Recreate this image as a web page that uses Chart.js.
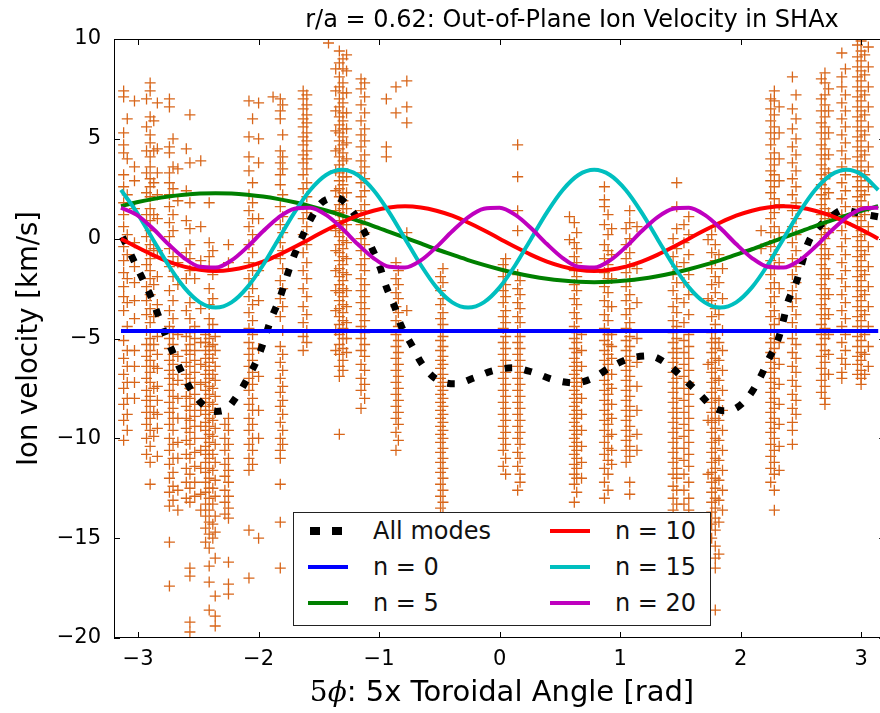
<!DOCTYPE html>
<html>
<head>
<meta charset="utf-8">
<script src="https://cdn.jsdelivr.net/npm/chart.js@4.4.0/dist/chart.umd.min.js"></script>
<style>
  html, body { margin: 0; padding: 0; background: #fff; overflow: hidden; }
  #wrap { position: relative; width: 892px; height: 713px; }
  #legend {
    position: absolute; left: 293px; top: 512px; width: 416px; height: 112px;
    border: 1.5px solid #222; background: #fff;
    font-family: 'DejaVu Sans', sans-serif; font-size: 24px; color: #111;
  }
  .item { position: absolute; height: 30px; line-height: 30px; white-space: nowrap; }
  .swatch { position: absolute; height: 4px; width: 40px; }
  .dot { position: absolute; width: 10px; height: 8px; background: #000; }
</style>
</head>
<body>
<div id="wrap">
  <canvas id="chart" width="892" height="713"></canvas>
  <div id="legend"></div>
</div>
<script>
// x grid of the fitted mode curves (5 x toroidal angle, rad)
const angleGrid = [-3.142, -3.011, -2.880, -2.749, -2.618, -2.487, -2.356, -2.225, -2.094, -1.963,
  -1.833, -1.702, -1.571, -1.440, -1.309, -1.178, -1.047, -0.916, -0.785, -0.654,
  -0.524, -0.393, -0.262, -0.131, 0, 0.131, 0.262, 0.393, 0.524, 0.654,
  0.785, 0.916, 1.047, 1.178, 1.309, 1.440, 1.571, 1.702, 1.833, 1.963,
  2.094, 2.225, 2.356, 2.487, 2.618, 2.749, 2.880, 3.011, 3.142];

const n0Angle = [-3.142, 3.142];
const n0Velocity = [-4.62, -4.62];

const n5Velocity = [1.63, 1.82, 1.98, 2.11, 2.20, 2.26, 2.28, 2.26, 2.20, 2.11, 1.98, 1.82, 1.63,
  1.41, 1.17, 0.90, 0.63, 0.34, 0.05, -0.24, -0.53, -0.80, -1.07, -1.31, -1.53, -1.72, -1.88,
  -2.01, -2.10, -2.16, -2.18, -2.16, -2.10, -2.01, -1.88, -1.72, -1.53, -1.31, -1.07, -0.80,
  -0.53, -0.24, 0.05, 0.34, 0.63, 0.90, 1.17, 1.41, 1.63];

const n10Velocity = [0, -0.42, -0.81, -1.15, -1.40, -1.56, -1.62, -1.56, -1.40, -1.15, -0.81, -0.42,
  0, 0.42, 0.81, 1.15, 1.40, 1.56, 1.62, 1.56, 1.40, 1.15, 0.81, 0.42,
  0, -0.42, -0.81, -1.15, -1.40, -1.56, -1.62, -1.56, -1.40, -1.15, -0.81, -0.42,
  0, 0.42, 0.81, 1.15, 1.40, 1.56, 1.62, 1.56, 1.40, 1.15, 0.81, 0.42, 0];

const n15Velocity = [2.44, 1.32, 0, -1.32, -2.44, -3.19, -3.45, -3.19, -2.44, -1.32, 0, 1.32, 2.44, 3.19, 3.45, 3.19,
  2.44, 1.32, 0, -1.32, -2.44, -3.19, -3.45, -3.19, -2.44, -1.32, 0, 1.32, 2.44, 3.19, 3.45, 3.19,
  2.44, 1.32, 0, -1.32, -2.44, -3.19, -3.45, -3.19, -2.44, -1.32, 0, 1.32, 2.44, 3.19, 3.45, 3.19, 2.44];

const n20Velocity = [1.55, 1.19, 0.52, -0.27, -0.97, -1.41, -1.45, -1.09, -0.42, 0.37, 1.07, 1.50,
  1.55, 1.19, 0.52, -0.27, -0.97, -1.41, -1.45, -1.09, -0.42, 0.37, 1.07, 1.50,
  1.55, 1.19, 0.52, -0.27, -0.97, -1.41, -1.45, -1.09, -0.42, 0.37, 1.07, 1.50,
  1.55, 1.19, 0.52, -0.27, -0.97, -1.41, -1.45, -1.09, -0.42, 0.37, 1.07, 1.50, 1.55];

// sum of all modes
const allAngle = [-3.13, -3.05, -2.97, -2.90, -2.84, -2.78, -2.71, -2.64, -2.56, -2.45, -2.36, -2.28,
  -2.18, -2.09, -2.01, -1.95, -1.90, -1.83, -1.72, -1.65, -1.58, -1.48, -1.35, -1.23, -1.13,
  -1.06, -0.99, -0.94, -0.87, -0.82, -0.73, -0.65, -0.54, -0.37, -0.21, -0.06, 0.11, 0.29,
  0.45, 0.62, 0.78, 0.91, 1.07, 1.24, 1.40, 1.52, 1.65, 1.77, 1.86, 1.95, 2.07, 2.16, 2.23,
  2.31, 2.35, 2.39, 2.46, 2.51, 2.56, 2.65, 2.72, 2.85, 3.00, 3.14];
const allVelocity = [0.09, -0.92, -1.92, -2.82, -3.72, -4.72, -5.72, -6.67, -7.58, -8.38, -8.65, -8.58,
  -7.88, -6.98, -6.02, -5.02, -4.07, -3.07, -1.07, -0.07, 0.84, 1.79, 2.04, 1.44, 0.44,
  -0.47, -1.47, -2.42, -3.42, -4.32, -5.32, -6.22, -6.97, -7.27, -6.97, -6.62, -6.47, -6.72,
  -7.07, -7.22, -6.97, -6.47, -6.02, -5.87, -6.32, -6.97, -7.72, -8.43, -8.62, -8.53, -7.88, -6.98, -6.07,
  -5.07, -4.22, -3.22, -2.22, -1.22, -0.22, 0.59, 0.94, 1.44, 1.25, 1.10];

// measured ion velocities, grouped by viewing chord position
const obsAngle = [-3.12, -3.09, -3.03, -2.93, -2.90, -2.87, -2.84, -2.74, -2.71, -2.67, -2.60, -2.57,
  -2.53, -2.48, -2.44, -2.41, -2.38, -2.36, -2.28, -2.25, -2.08, -2.05, -2.00, -1.88, -1.82,
  -1.80, -1.63, -1.60, -1.42, -1.36, -1.33, -1.30, -1.27, -1.15, -1.12, -0.94, -0.86, -0.84,
  -0.77, -0.49, -0.47, 0.03, 0.05, 0.15, 0.17, 0.58, 0.62, 0.64, 0.68, 0.87, 0.90, 0.93,
  1.05, 1.08, 1.14, 1.44, 1.47, 1.53, 1.57, 1.73, 1.76, 1.79, 1.82, 1.85, 2.17, 2.25, 2.28,
  2.32, 2.43, 2.46, 2.67, 2.70, 2.73, 2.84, 2.87, 2.97, 3.00, 3.03, 3.06];
const obsVelocity = [
  [7.4, 7.1, 5.3, 4.7, 4.3, 3.2, 2.6, 1.8, 1.2, 0.6, -0.4, -1.1, -1.7, -2.4, -2.9, -3.6, -5.1, -6.0, -6.8, -7.5, -8.3, -9.1, -10.1],
  [6.0, 4.0, 2.2, 0.2, -0.8, -2.0, -3.2, -4.4, -5.6, -6.4, -7.2, -8.0, -8.8, -9.6],
  [6.9, 3.6, 2.9, 1.5, -0.2, -1.4, -2.2, -3.1, -4.0, -5.6, -6.4, -7.2, -8.0],
  [7.0, 5.6, 4.4, 3.3, 2.3, 1.2, 0.1, -0.6, -1.3, -2.4, -3.1, -3.8, -4.6, -5.3, -5.9, -6.4, -7.0, -7.6, -8.1, -8.7, -9.3, -10.0, -10.8],
  [7.8, 7.4, 6.1, 5.2, 4.8, 4.1, 3.6, 3.0, 2.6, 2.1, 1.5, 0.9, 0.4, -0.3, -1.0, -1.6, -2.0, -2.8, -3.5, -4.2, -5.0, -5.6, -6.1, -6.7, -7.2, -7.9, -8.4, -9.0, -9.6, -10.4, -11.2, -12.3],
  [5.9, 4.4, 2.8, 1.2, -0.5, -2.3, -3.9, -5.3, -6.4, -7.5, -8.7, -9.9],
  [6.8, 4.5, 3.3, 2.2, 1.0, -0.6, -1.9, -3.3, -4.9, -5.8, -6.5, -7.4, -8.1, -8.8, -9.5, -10.9],
  [7.0, 6.6, 4.6, 4.3, 3.3, 2.8, 2.2, 1.6, 0.8, 0.1, -0.5, -1.4, -2.6, -3.6, -4.4, -5.0, -5.5, -6.1, -6.6, -7.0, -7.6, -8.2, -8.7, -9.3, -10.0, -10.6, -11.3, -12.0, -12.7, -13.4, -15.2, -17.4],
  [5.0, 3.6, 2.5, 1.2, 0.4, -0.9, -1.9, -3.1, -4.0, -4.7, -5.3, -5.8, -6.3, -6.8, -7.3, -7.9, -8.5, -9.0, -9.6, -10.3, -11.0, -11.7, -12.4, -13.1],
  [3.5, 1.9, -1.2, -2.3, -4.8, -5.9, -7.1, -8.0, -9.0, -10.2, -11.0, -12.6, -13.6],
  [4.5, 2.4, 0.9, -0.7, -2.0, -3.6, -4.9, -5.6, -6.2, -6.8, -7.3, -7.9, -8.4, -9.0, -9.5, -10.1, -10.8, -11.5, -12.2, -13.0],
  [6.2, 3.8, 1.8, 0.5, -0.3, -1.0, -1.6, -3.2, -4.0, -4.7, -5.3, -5.8, -6.4, -7.0, -7.5, -8.0, -8.6, -9.1, -9.7, -10.3, -11.0, -11.8, -12.5, -13.2, -16.5, -16.9, -19.2, -19.7],
  [-2.0, -4.4, -5.0, -5.6, -6.1, -6.7, -7.2, -7.8, -8.3, -8.9, -9.4, -10.0, -10.7, -11.4, -12.2, -12.9],
  [3.9, 0.6, -1.1, -3.5, -5.2, -6.3, -7.3, -8.6, -9.4, -10.6, -11.5, -12.8, -13.6],
  [-4.8, -5.2, -5.6, -6.0, -6.4, -6.8, -7.2, -7.6, -8.0, -8.4, -8.8, -9.2, -9.6, -10.0, -10.4, -10.8, -11.2, -11.7, -12.2, -12.7, -13.3, -13.9, -14.5, -15.2],
  [1.8, -0.2, -0.9, -1.4, -2.5, -3.3, -4.0, -4.6, -5.0, -5.4, -5.8, -6.2, -6.6, -7.0, -7.4, -7.8, -8.2, -8.6, -9.0, -9.4, -9.8, -10.2, -10.6, -11.0, -11.5, -12.0, -12.5, -13.0, -13.6, -14.2, -14.8, -15.5, -16.4, -17.2, -18.6],
  [-0.6, -1.8, -3.0, -4.3, -5.3, -6.0, -6.8, -7.5, -8.3, -9.1, -9.9, -10.8, -11.6, -12.5, -13.3, -14.3, -15.0],
  [-4.9, -5.6, -6.4, -7.1, -7.9, -8.7, -9.5, -10.3, -11.2, -12.1, -12.9, -13.9, -14.7, -16.0, -17.9, -18.9, -19.4],
  [-9.3, -10.0, -10.6, -11.3, -11.9, -12.6, -13.2, -13.8],
  [-0.3, -1.2, -9.0, -9.6, -10.3, -11.0, -11.6, -12.2, -12.9, -13.5, -14.0, -16.2, -17.3, -17.8],
  [6.9, 5.1, 4.1, 3.4, 2.2, 1.4, 0.6, -0.3, -1.2, -2.0, -2.9, -3.7, -4.5, -5.2, -5.8, -6.4, -7.0, -7.6, -8.3, -9.0, -9.6, -10.3, -11.0, -11.6, -14.6, -17.0],
  [6.0, 2.8, 1.8, 1.0, 0.2, -0.7, -1.6, -2.5, -3.3, -4.1, -4.8, -5.5, -6.1, -6.7, -7.3, -8.0, -8.6, -9.3, -10.0, -10.6, -11.3],
  [6.8, 5.0, 3.8, 1.0, -1.6, -3.1, -5.5, -6.9, -8.6, -10.0, -15.0],
  [7.1],
  [7.0, 6.4, 6.0, 4.4, 3.8, 3.2, 2.7, 1.6, 0.7, -0.2, -1.0, -2.1, -3.0, -3.9, -5.4, -6.2, -7.0, -7.7, -8.4, -9.2, -10.0, -10.6, -11.0, -12.3, -14.2, -16.5],
  [6.7, 5.2, 4.1, 3.5, 2.2, 1.1, 0.3, -0.6, -1.5, -2.5, -3.4, -4.6, -5.8, -6.6, -7.4, -8.1, -8.8, -9.6, -10.3],
  [7.4, 7.0, 6.5, 6.0, 5.6, 5.1, 4.7, 4.2, 3.8, 3.2, 2.5, 1.7, 1.0, 0.2, -0.7, -1.6, -2.5, -3.4, -4.2, -4.9, -5.6],
  [7.2, 6.7, 6.2, 5.8, 5.3, 4.9, 4.4, 4.0, 3.5, 2.8, 2.1, 1.3, 0.6, -0.3, -1.2, -2.0, -2.9, -3.8, -4.6, -5.2],
  [9.8],
  [8.5, 7.4, 6.4, 5.4, 4.4, 3.4, 2.4, 1.4, 0.4, -0.6, -1.6, -2.6, -3.6, -4.6, -5.6],
  [9.4, 8.8, 8.1, 7.6, 7.0, 6.6, 6.1, 5.7, 5.3, 4.9, 4.5, 4.1, 3.7, 3.3, 2.9, 2.5, 2.1, 1.7, 1.3, 0.9, 0.5, 0.1, -0.3, -0.7, -1.1, -1.5, -1.9, -2.3, -2.7, -3.1, -3.5, -3.9, -4.3, -4.8, -5.3, -5.8, -6.4, -6.9, -9.8],
  [9.0, 8.5, 7.8, 7.3, 6.8, 6.3, 5.9, 5.5, 5.1, 4.7, 4.3, 3.9, 3.5, 3.1, 2.7, 2.3, 1.9, 1.5, 1.1, 0.7, 0.3, -0.1, -0.5, -0.9, -1.3, -1.7, -2.1, -2.5, -2.9, -3.3, -3.7, -4.1, -4.5, -5.0, -5.5, -6.1, -6.6],
  [9.2, 8.4, 7.3, 6.3, 5.5, 4.8, 4.0, 3.1, 2.3, 1.5, 0.7, -0.2, -1.0, -1.8, -2.6, -3.4, -4.2, -5.0, -5.7],
  [8.0, 7.5, 6.7, 5.9, 5.2, 4.6, 3.9, 3.3, 2.8, 2.1, 1.4, 0.7, 0.0, -0.6, -1.3, -2.0, -2.6, -3.2, -3.8, -4.4, -5.0, -5.6, -6.3, -7.0, -7.6, -8.5],
  [7.8, 7.1, 6.3, 5.5, 4.9, 4.2, 3.6, 3.0, 2.4, 1.7, 1.0, 0.3, -0.3, -1.0, -1.6, -2.3, -2.9, -3.5, -4.1, -4.7, -5.3, -5.9, -6.6, -7.3, -8.0],
  [7.0, 4.6, 4.1],
  [7.6, 6.3, -1.2, -2.0, -2.7, -3.4, -4.1, -4.8, -5.4, -6.0, -6.6, -7.2, -7.8, -8.4, -9.0, -9.7, -10.6],
  [-1.6, -2.3, -3.0, -3.7, -4.4, -5.1, -5.7, -6.3, -6.9, -7.5, -8.1, -8.7, -9.3, -10.1],
  [7.9, 6.6, 5.8, 0.3, -3.6],
  [-1.9, -2.6, -3.3, -4.0, -4.6, -5.1, -5.6, -6.1, -6.5, -7.0, -7.4, -7.8, -8.2, -8.6, -9.0, -9.4, -9.8, -10.2, -10.7, -11.2, -11.7, -12.3, -12.9, -13.5],
  [-1.5, -2.2, -3.0, -3.7, -4.3, -4.9, -5.4, -5.9, -6.3, -6.8, -7.2, -7.6, -8.0, -8.4, -8.8, -9.2, -9.6, -10.0, -10.5, -11.0, -11.5, -12.0, -12.6, -13.2, -13.8],
  [-1.3, -1.9, -2.6, -3.2, -3.9, -4.5, -5.2, -5.8, -6.4, -7.0, -7.6, -8.2, -8.8, -9.4, -10.0, -10.6, -11.4],
  [-1.0, -1.6, -2.3, -2.9, -3.6, -4.2, -4.9, -5.5, -6.1, -6.7, -7.3, -7.9, -8.5, -9.1, -9.7, -10.3, -11.0, -11.8],
  [4.7, 3.1, 1.4, 0.4, -1.8, -2.5, -3.2, -3.9, -4.6, -5.2, -5.8, -6.4, -7.0, -7.6, -8.2, -8.8, -9.4, -10.0, -10.7, -11.4, -12.6],
  [-2.1, -2.8, -3.5, -4.2, -4.9, -5.5, -6.1, -6.7, -7.3, -7.9, -8.5, -9.1, -9.7, -10.3, -11.0, -11.8, -12.2],
  [1.1, -0.05],
  [0.8, -0.2, -0.9, -1.6, -2.3, -3.0, -3.7, -4.4, -5.0, -5.5, -6.0, -6.4, -6.8, -7.2, -7.6, -8.0, -8.4, -8.8, -9.2, -9.6, -10.0, -10.4, -10.8, -11.3, -11.8, -12.3, -13.2],
  [0.3, -0.5, -1.2, -1.9, -2.6, -3.3, -4.0, -4.7, -5.2, -5.7, -6.2, -6.6, -7.0, -7.4, -7.8, -8.2, -8.6, -9.0, -9.4, -9.8, -10.2, -10.6, -11.0, -11.5, -12.0, -12.7],
  [-4.8, -5.6, -6.4, -7.2, -8.0, -8.8, -9.6, -10.4, -11.2, -12.0],
  [2.6, 1.95, 1.6, 0.7, -0.3, -1.0, -1.7, -2.4, -3.1, -3.8, -4.5, -5.1, -5.6, -6.1, -6.6, -7.1, -7.6, -8.1, -8.6, -9.1, -9.6, -10.2, -10.8, -11.5, -12.2, -13.0],
  [1.2, 0.2, -0.6, -1.3, -2.0, -2.7, -3.4, -4.1, -4.8, -5.3, -5.8, -6.3, -6.8, -7.3, -7.8, -8.3, -8.8, -9.3, -9.9, -10.5, -11.1, -11.8, -12.6],
  [0.5, -0.8, -2.0, -3.4, -4.8, -5.4, -6.0, -6.8, -7.5, -8.3, -9.0, -9.8, -10.6, -11.3],
  [0.5, -0.3, -1.0, -1.7, -2.4, -3.1, -3.8, -4.5, -5.1, -5.6, -6.1, -6.6, -7.1, -7.6, -8.1, -8.6, -9.1, -9.6, -10.1, -10.6, -11.2],
  [1.4, 0.8, 0.0, -0.7, -1.4, -2.1, -2.8, -3.5, -4.2, -4.9, -5.4, -5.9, -6.4, -6.9, -7.4, -7.9, -8.4, -8.9, -9.4, -9.9, -10.4, -10.9, -12.2, -12.8],
  [0.6, -1.5, -3.2, -5.0, -6.2, -7.4, -8.6, -9.8, -10.6],
  [0.0, -0.9, -1.8, -2.6, -3.4, -4.1, -4.7, -5.2, -5.7, -6.2, -6.7, -7.2, -7.7, -8.2, -8.7, -9.2, -9.7, -10.2, -10.7, -11.2, -11.8, -12.4, -13.0, -13.6],
  [2.8, 1.6, 0.5, -0.5, -1.4, -2.2, -3.0, -3.7, -4.4, -5.0, -5.5, -6.0, -6.5, -7.0, -7.5, -8.0, -8.5, -9.0, -9.5, -10.0, -10.5, -11.0, -11.5, -12.0, -12.6, -13.3, -14.0],
  [0.7, -0.2, -1.2, -2.2, -3.2, -4.2, -5.1, -5.7, -6.3, -6.9, -7.5, -8.1, -8.7, -9.3, -9.9, -10.5, -11.1, -11.8, -12.6, -13.3],
  [1.1, 0.2, -0.8, -1.8, -2.8, -3.8, -4.8, -5.4, -6.0, -6.6, -7.2, -7.8, -8.4, -9.0, -9.6, -10.2, -10.8, -11.4, -12.2, -13.0, -13.6],
  [-0.05, -3.0, -6.3, -9.1, -11.8],
  [0.2, -0.7, -1.5, -2.3, -3.1, -3.9, -4.7, -5.2, -5.7, -6.2, -6.7, -7.2, -7.7, -8.2, -8.7, -9.2, -9.7, -10.2, -10.7, -11.2, -11.7, -12.2, -12.7, -13.2, -13.7, -14.3, -15.0],
  [0.6, -0.3, -1.1, -1.9, -2.7, -3.5, -4.3, -5.0, -5.5, -6.0, -6.5, -7.0, -7.5, -8.0, -8.5, -9.0, -9.5, -10.0, -10.5, -11.0, -11.5, -12.0, -12.5, -13.0, -13.5, -14.0, -14.6, -15.4, -16.0, -16.5, -18.6],
  [-0.8, -2.2, -3.8, -5.2, -6.1, -7.1, -8.1, -9.1, -10.1, -11.1, -12.1, -13.1, -14.2, -15.8],
  [-1.5, -3.0, -4.6, -5.6, -6.6, -7.6, -8.6, -9.6, -10.6, -11.6, -12.6, -13.6],
  [0.4, -0.5],
  [7.0, 6.5, 5.9, 5.3, 4.7, 4.0, 3.4, 2.9, 2.3, 1.6, 1.0, 0.3, -0.4, -1.1, -1.8, -2.5, -3.2, -3.9, -4.6, -5.2, -5.7, -6.2, -6.7, -7.2, -7.7, -8.2, -8.7, -9.2, -9.7, -10.3, -10.9, -11.5, -12.2],
  [7.4, 6.9, 6.2, 5.6, 5.0, 4.3, 3.7, 3.2, 2.6, 2.0, 1.3, 0.6, -0.1, -0.8, -1.5, -2.2, -2.9, -3.6, -4.3, -5.0, -5.5, -6.0, -6.5, -7.0, -7.5, -8.0, -8.5, -9.0, -9.5, -10.0, -10.6, -11.2, -11.8, -12.6, -13.6],
  [6.6, 5.3, 4.0, 2.9, 1.7, 0.3, -1.2, -2.5, -4.0, -5.2, -6.3, -7.3, -8.3, -9.3, -10.4, -11.6],
  [8.1, 6.5, 5.5, 4.6, 3.8, 3.0, 2.2, 1.4, 0.6, -0.2, -1.0, -1.8, -2.6, -3.4, -4.2, -5.0, -5.7, -6.4, -7.1, -7.8, -8.5, -9.2, -9.6, -10.3],
  [7.2, 6.0, 5.0, 4.2, 3.4, 2.6, 1.8, 1.0, 0.2, -0.6, -1.4, -2.2, -3.0, -3.8, -4.6, -5.3, -6.0, -6.7, -7.4, -8.1, -8.8],
  [8.0, 7.0, 6.4, 5.8, 5.3, 4.7, 4.2, 3.7, 3.2, 2.7, 2.2, 1.7, 1.2, 0.7, 0.2, -0.3, -0.8, -1.3, -1.8, -2.3, -2.8, -3.3, -3.8, -4.3, -4.8, -5.3, -5.9, -6.5, -7.1, -7.7],
  [8.3, 7.8, 7.2, 6.7, 6.1, 5.6, 5.0, 4.5, 4.0, 3.5, 3.0, 2.5, 2.0, 1.5, 1.0, 0.5, 0.0, -0.5, -1.0, -1.5, -2.0, -2.5, -3.0, -3.5, -4.0, -4.5, -5.0, -5.6, -6.2, -6.8, -7.4, -8.0, -8.3],
  [7.5, 6.4, 5.3, 4.2, 3.3, 2.3, 1.3, 0.3, -0.8, -1.8, -2.8, -3.8, -4.8, -5.8, -6.8],
  [9.3, 8.1, 7.6, 6.8, 6.0, 5.2, 4.4, 3.6, 2.8, 2.0, 1.2, 0.4, -0.4, -1.2, -2.0, -2.8, -3.6, -4.4, -5.2, -6.0, -6.7, -7.0],
  [8.5, 7.2, 6.4, 5.6, 4.8, 4.0, 3.2, 2.4, 1.6, 0.8, 0.0, -0.8, -1.6, -2.4, -3.2, -4.0, -4.8, -5.6, -6.3],
  [9.7, 9.1, 8.6, 8.1, 7.6, 7.1, 6.6, 6.1, 5.6, 5.1, 4.6, 4.1, 3.6, 3.1, 2.6, 2.1, 1.6, 1.1, 0.6, 0.1, -0.4, -0.9, -1.4, -1.9, -2.4, -2.9, -3.4, -3.9, -4.4, -4.9, -5.4, -5.9, -6.3, -6.8],
  [9.9, 9.4, 8.9, 8.4, 7.9, 7.4, 6.9, 6.4, 5.9, 5.4, 4.9, 4.4, 3.9, 3.4, 2.9, 2.4, 1.9, 1.4, 0.9, 0.4, -0.1, -0.6, -1.1, -1.6, -2.1, -2.6, -3.1, -3.6, -4.1, -4.6, -5.1, -5.7, -6.1, -6.6, -7.0, -7.3],
  [9.2, 8.2, 7.2, 6.2, 5.2, 4.2, 3.2, 2.2, 1.2, 0.2, -0.8, -1.8, -2.8, -3.8, -4.8, -5.8, -6.8],
  [9.6, 8.6, 7.6, 6.6, 5.6, 4.6, 3.6, 2.6, 1.6, 0.6, -0.4, -1.4, -2.4, -3.4, -4.4, -5.4, -6.4]
];

const xTicks = [-3, -2, -1, 0, 1, 2, 3];
const yTicks = [-20, -15, -10, -5, 0, 5, 10];

const FONT = "'DejaVu Sans', sans-serif";

const toPoints = (xs, ys) => xs.map((x, i) => ({ x: x, y: ys[i] }));

const obsPoints = [];
obsAngle.forEach((x, i) => {
  obsVelocity[i].forEach(v => obsPoints.push({ x: x, y: v }));
});

const modeLine = (label, color, xs, ys, order) => ({
  label: label,
  data: toPoints(xs, ys),
  showLine: true,
  borderColor: color,
  backgroundColor: color,
  borderWidth: 4,
  pointRadius: 0,
  cubicInterpolationMode: 'monotone',
  order: order,
});

const datasets = [
  modeLine('n = 20', '#bf00bf', angleGrid, n20Velocity, 0),
  modeLine('n = 15', '#00bfbf', angleGrid, n15Velocity, 1),
  modeLine('n = 10', '#ff0000', angleGrid, n10Velocity, 2),
  modeLine('n = 5', '#008000', angleGrid, n5Velocity, 3),
  modeLine('n = 0', '#0000ff', n0Angle, n0Velocity, 4),
  Object.assign(modeLine('All modes', '#000000', allAngle, allVelocity, 5), {
    borderWidth: 7,
    borderDash: [7.5, 12.5],
    borderCapStyle: 'butt',
  }),
  {
    label: 'data',
    data: obsPoints,
    pointStyle: 'cross',
    pointRadius: 5.5,
    pointBorderWidth: 1.3,
    borderColor: '#d8661a',
    backgroundColor: '#d8661a',
    order: 6,
  },
];

const minus = v => String(v).replace('-', '\u2212');

// frame, inward ticks, title and x label drawn like the original figure
const framePlugin = {
  id: 'frame',
  afterDatasetsDraw(chart) {
    const { ctx, chartArea: a, scales } = chart;
    ctx.save();
    ctx.strokeStyle = '#000';
    ctx.lineWidth = 1;
    ctx.strokeRect(a.left + 0.5, a.top + 0.5, a.right - a.left - 1, a.bottom - a.top - 1);
    const len = 6;
    ctx.beginPath();
    xTicks.forEach(v => {
      const px = Math.round(scales.x.getPixelForValue(v)) + 0.5;
      ctx.moveTo(px, a.bottom); ctx.lineTo(px, a.bottom - len);
      ctx.moveTo(px, a.top); ctx.lineTo(px, a.top + len);
    });
    yTicks.forEach(v => {
      const py = Math.round(scales.y.getPixelForValue(v)) + 0.5;
      ctx.moveTo(a.left, py); ctx.lineTo(a.left + len, py);
      ctx.moveTo(a.right, py); ctx.lineTo(a.right - len, py);
    });
    ctx.stroke();
    ctx.restore();
  },
  afterDraw(chart) {
    const { ctx } = chart;
    ctx.save();
    ctx.fillStyle = '#000';
    ctx.textBaseline = 'alphabetic';
    ctx.textAlign = 'center';
    ctx.font = '24px ' + FONT;
    ctx.fillText('r/a = 0.62: Out-of-Plane Ion Velocity in SHAx', 572, 27);

    const parts = [
      { t: '5', f: "28px 'DejaVu Serif', serif" },
      { t: '\u03d5', f: "italic 28px 'DejaVu Serif', serif" },
      { t: ': 5x Toroidal Angle [rad]', f: '29px ' + FONT },
    ];
    let w = 0;
    parts.forEach(p => { ctx.font = p.f; p.w = ctx.measureText(p.t).width; w += p.w; });
    let x = 502 - w / 2;
    ctx.textAlign = 'left';
    parts.forEach(p => { ctx.font = p.f; ctx.fillText(p.t, x, 701); x += p.w; });
    ctx.restore();
  },
};

new Chart(document.getElementById('chart'), {
  type: 'scatter',
  data: { datasets: datasets },
  options: {
    responsive: false,
    animation: false,
    devicePixelRatio: 1,
    layout: { padding: { top: 39, right: 2, left: 0, bottom: 0 } },
    plugins: {
      legend: { display: false },
      tooltip: { enabled: false },
    },
    scales: {
      x: {
        type: 'linear',
        min: -3.2,
        max: 3.2,
        grid: { display: false, drawTicks: false },
        border: { display: false },
        afterBuildTicks: s => { s.ticks = xTicks.map(v => ({ value: v })); },
        afterFit: s => { s.height = 75; },
        ticks: {
          color: '#000',
          font: { family: FONT, size: 21 },
          padding: 9,
          maxRotation: 0,
          autoSkip: false,
          callback: v => minus(v),
        },
      },
      y: {
        type: 'linear',
        min: -20,
        max: 10,
        grid: { display: false, drawTicks: false },
        border: { display: false },
        afterBuildTicks: s => { s.ticks = yTicks.map(v => ({ value: v })); },
        afterFit: s => { s.width = 114; },
        ticks: {
          color: '#000',
          font: { family: FONT, size: 21 },
          padding: 13,
          callback: v => minus(v),
        },
        title: {
          display: true,
          text: 'Ion velocity [km/s]',
          color: '#000',
          font: { family: FONT, size: 27.5 },
          padding: { top: 13, bottom: 0 },
        },
      },
    },
  },
  plugins: [framePlugin],
});

// legend box, two columns like the original
const legendOrder = [
  { label: 'All modes', col: 0, row: 0, color: '#000000', dotted: true },
  { label: 'n = 0', col: 0, row: 1, color: '#0000ff' },
  { label: 'n = 5', col: 0, row: 2, color: '#008000' },
  { label: 'n = 10', col: 1, row: 0, color: '#ff0000' },
  { label: 'n = 15', col: 1, row: 1, color: '#00bfbf' },
  { label: 'n = 20', col: 1, row: 2, color: '#bf00bf' },
];
const legendEl = document.getElementById('legend');
legendOrder.forEach(e => {
  const cy = 18 + e.row * 36;
  const sx = e.col === 0 ? 14 : 256;
  if (e.dotted) {
    [sx + 2, sx + 24].forEach(dx => {
      const d = document.createElement('div');
      d.className = 'dot';
      d.style.left = dx + 'px';
      d.style.top = (cy - 4) + 'px';
      legendEl.appendChild(d);
    });
  } else {
    const s = document.createElement('div');
    s.className = 'swatch';
    s.style.left = sx + 'px';
    s.style.top = (cy - 2) + 'px';
    s.style.background = e.color;
    legendEl.appendChild(s);
  }
  const t = document.createElement('div');
  t.className = 'item';
  t.textContent = e.label;
  t.style.left = (e.col === 0 ? 79 : 321) + 'px';
  t.style.top = (cy - 15) + 'px';
  legendEl.appendChild(t);
});
</script>
</body>
</html>
